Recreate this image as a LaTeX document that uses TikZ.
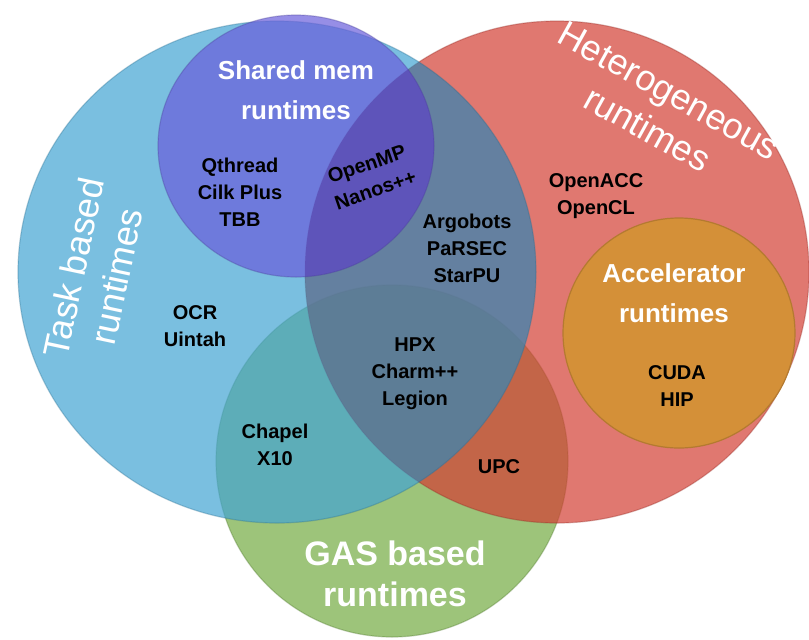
\documentclass[tikz,border=0pt]{standalone}
\usepackage{fontspec}
\setmainfont{Liberation Sans}
\definecolor{taskblue}{HTML}{42A4D3}
\definecolor{heterored}{HTML}{D33E33}
\definecolor{gasgreen}{HTML}{73AB41}
\definecolor{sharedpurple}{HTML}{6A5EDB}
\definecolor{accorange}{HTML}{D49038}
\definecolor{overlapshade}{HTML}{404060}
\definecolor{lensshade}{HTML}{4A2A9A}
\tikzset{
  blob/.style={fill opacity=0.7, draw opacity=0.35, line width=0.6pt},
  lbl/.style={font=\bfseries\fontsize{10}{13.5}\selectfont, align=center, text=black, inner sep=0pt},
  ttl/.style={font=\bfseries\fontsize{13}{20}\selectfont, align=center, text=white, inner sep=0pt},
  bigttl/.style={font=\fontsize{18}{22}\selectfont, align=center, text=white, inner sep=0pt}
}
\newcommand{\taskset}{(277,272) ellipse [x radius=259,y radius=251]}
\newcommand{\heteroset}{(557,272) ellipse [x radius=252,y radius=251]}
\newcommand{\sharedset}{(296,146) ellipse [x radius=138,y radius=131]}
\begin{document}
\begin{tikzpicture}[x=0.5pt,y=-0.5pt]
  \useasboundingbox (0,0) rectangle (809,639);
  % sets, back to front
  \fill[gasgreen,blob,draw=gasgreen!70!black] (392,461) ellipse [x radius=176,y radius=176];
  \fill[heterored,blob,draw=heterored!70!black] \heteroset;
  \fill[taskblue,blob,draw=taskblue!70!black] \taskset;
  % darker tone where task and heterogeneous meet
  \begin{scope}
    \clip \heteroset;
    \fill[overlapshade,fill opacity=0.25] \taskset;
  \end{scope}
  \fill[sharedpurple,blob,draw=sharedpurple!70!black] \sharedset;
  \begin{scope}
    \clip \heteroset;
    \fill[lensshade,fill opacity=0.3] \sharedset;
  \end{scope}
  \fill[accorange,draw=accorange!85!black,line width=0.6pt] (679,333) ellipse [x radius=116,y radius=115];
  % set titles
  \node[ttl] (shared) at (296,90) {Shared mem\\runtimes};
  \node[ttl] (accel) at (674,293) {Accelerator\\runtimes};
  \node[ttl,font=\bfseries\fontsize{17}{20.5}\selectfont] (gas) at (395,574) {GAS based\\runtimes};
  \node[bigttl,rotate=-29] (hetero) at (658,110) {Heterogeneous\\runtimes};
  \node[bigttl,rotate=78] (task) at (95,272) {Task based\\runtimes};
  % members
  \node[lbl] (qthread) at (240,192) {Qthread\\Cilk Plus\\TBB};
  \node[lbl,rotate=19] (openmp) at (371,177) {OpenMP\\Nanos++};
  \node[lbl] (argobots) at (467,248) {Argobots\\PaRSEC\\StarPU};
  \node[lbl] (openacc) at (596,196) {OpenACC\\OpenCL};
  \node[lbl] (ocr) at (195,326) {OCR\\Uintah};
  \node[lbl] (hpx) at (415,374) {HPX\\Charm++\\Legion};
  \node[lbl] (chapel) at (275,445) {Chapel\\X10};
  \node[lbl] (upc) at (499,467) {UPC};
  \node[lbl] (cuda) at (677,386) {CUDA\\HIP};
\end{tikzpicture}
\end{document}
